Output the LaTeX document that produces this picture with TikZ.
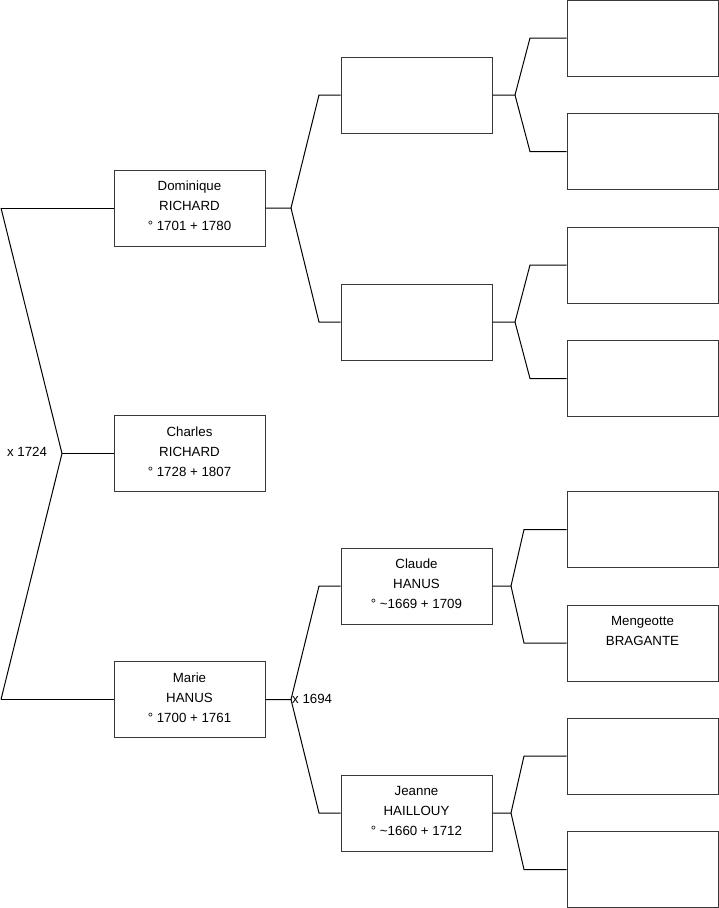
\documentclass[tikz,border=0pt]{standalone}
\usepackage{fontspec}
\setmainfont{Liberation Sans}
\begin{document}
\begin{tikzpicture}[x=1pt,y=-1pt,
  box/.style={draw=black!78, line width=1pt, minimum width=151pt, minimum height=76pt, inner sep=0pt},
  txt/.style={font=\fontsize{13.3pt}{20pt}\selectfont, align=center, inner sep=0pt, anchor=north},
  conn/.style={draw=black, line width=1pt, line join=miter},
  lbl/.style={font=\fontsize{13.3pt}{15pt}\selectfont, inner sep=0pt}]
\useasboundingbox (0,0) rectangle (719,908);
% generation 1
\node[box] (dom) at (189.5,208) {};
\node[box] (cha) at (189.5,453.5) {};
\node[box] (mar) at (189.5,699.5) {};
% generation 2
\node[box] (p1) at (416.5,95) {};
\node[box] (p2) at (416.5,322) {};
\node[box] (p3) at (416.5,586) {};
\node[box] (p4) at (416.5,813) {};
% generation 3
\node[box] (g1) at (642.5,38) {};
\node[box] (g2) at (642.5,151.5) {};
\node[box] (g3) at (642.5,265) {};
\node[box] (g4) at (642.5,378.5) {};
\node[box] (g5) at (642.5,529.5) {};
\node[box] (g6) at (642.5,643) {};
\node[box] (g7) at (642.5,756) {};
\node[box] (g8) at (642.5,869.5) {};
% texts
\node[txt] (tdom) at ([yshift=-11.5pt]dom.north) {Dominique\\RICHARD\\° 1701 + 1780};
\node[txt] (tcha) at ([yshift=-11.5pt]cha.north) {Charles\\RICHARD\\° 1728 + 1807};
\node[txt] (tmar) at ([yshift=-11.5pt]mar.north) {Marie\\HANUS\\° 1700 + 1761};
\node[txt] (tp3) at ([yshift=-11.5pt]p3.north) {Claude\\HANUS\\° \textasciitilde1669 + 1709};
\node[txt] (tp4) at ([yshift=-11.5pt]p4.north) {Jeanne\\HAILLOUY\\° \textasciitilde1660 + 1712};
\node[txt] (tg6) at ([yshift=-11.5pt]g6.north) {Mengeotte\\BRAGANTE};
% left bracket
\coordinate (L1) at (1,208);
\coordinate (L2) at (1,699.5);
\coordinate (A0) at (62,453.5);
\draw[conn] (L1) -- (dom.west);
\draw[conn] (L2) -- (mar.west);
\draw[conn] (L1) -- (A0) -- (L2);
\draw[conn] (A0) -- (cha.west);
\node[lbl] (m1) at (27,452) {x 1724};
% forks gen1 -> gen2
\coordinate (a1) at (291,208);
\coordinate (a1t) at (319,95);
\coordinate (a1b) at (319,322);
\draw[conn] (dom.east) -- (a1) -- (a1t) -- (p1.west);
\draw[conn] (a1) -- (a1b) -- (p2.west);
\coordinate (a2) at (291,699.5);
\coordinate (a2t) at (319,586);
\coordinate (a2b) at (319,813);
\draw[conn] (mar.east) -- (a2) -- (a2t) -- (p3.west);
\draw[conn] (a2) -- (a2b) -- (p4.west);
\node[lbl, anchor=west] (m2) at (292,699) {x 1694};
% forks gen2 -> gen3
\coordinate (b1) at (515,95);
\coordinate (b1t) at (530,38);
\coordinate (b1b) at (530,151.5);
\draw[conn] (p1.east) -- (b1) -- (b1t) -- (g1.west);
\draw[conn] (b1) -- (b1b) -- (g2.west);
\coordinate (b2) at (515,322);
\coordinate (b2t) at (530,265);
\coordinate (b2b) at (530,378.5);
\draw[conn] (p2.east) -- (b2) -- (b2t) -- (g3.west);
\draw[conn] (b2) -- (b2b) -- (g4.west);
\coordinate (b3) at (511,586);
\coordinate (b3t) at (524,529.5);
\coordinate (b3b) at (524,643);
\draw[conn] (p3.east) -- (b3) -- (b3t) -- (g5.west);
\draw[conn] (b3) -- (b3b) -- (g6.west);
\coordinate (b4) at (511,813);
\coordinate (b4t) at (524,756);
\coordinate (b4b) at (524,869.5);
\draw[conn] (p4.east) -- (b4) -- (b4t) -- (g7.west);
\draw[conn] (b4) -- (b4b) -- (g8.west);
\end{tikzpicture}
\end{document}
